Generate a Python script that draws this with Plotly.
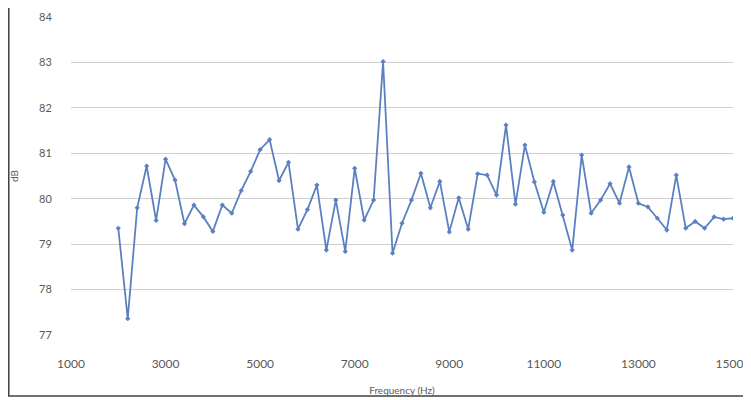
import plotly.graph_objects as go

frequency_hz = [2000 + 200 * i for i in range(66)]
level_db = [
    79.35, 77.36, 79.80, 80.72, 79.52, 80.87, 80.41, 79.45, 79.86, 79.60,
    79.28, 79.86, 79.68, 80.18, 80.60, 81.08, 81.30, 80.40, 80.80, 79.33,
    79.76, 80.30, 78.87, 79.97, 78.84, 80.67, 79.53, 79.97, 83.02, 78.80,
    79.46, 79.97, 80.56, 79.80, 80.38, 79.27, 80.02, 79.33, 80.55, 80.52,
    80.08, 81.62, 79.88, 81.18, 80.37, 79.70, 80.38, 79.64, 78.87, 80.96,
    79.68, 79.97, 80.33, 79.90, 80.70, 79.90, 79.82, 79.57, 79.31, 80.52,
    79.35, 79.50, 79.35, 79.60, 79.55, 79.57,
]
x_ticks = [1000, 3000, 5000, 7000, 9000, 11000, 13000, 15000]
y_ticks = [77, 78, 79, 80, 81, 82, 83, 84]

fig = go.Figure()
fig.add_trace(go.Scatter(
    x=frequency_hz, y=level_db, mode="lines+markers",
    line=dict(color="#5b80c2", width=1.8),
    marker=dict(color="#5b80c2", size=4, symbol="diamond"),
    showlegend=False,
))

font_family = "Lato, 'Open Sans', sans-serif"
fig.update_layout(
    width=743, height=392,
    margin=dict(l=63, r=18, t=9, b=65, autoexpand=False),
    paper_bgcolor="white", plot_bgcolor="white",
    font=dict(family=font_family, color="#595959", size=11),
    xaxis=dict(
        range=[1000, 15000], tickvals=x_ticks, ticktext=[str(v) for v in x_ticks],
        showgrid=False, zeroline=False, showline=False, automargin=False,
        ticks="outside", ticklen=18, tickcolor="rgba(0,0,0,0)",
        tickfont=dict(size=12, color="#595959"),
        title=dict(text="Frequency (Hz)", font=dict(size=10, color="#595959"), standoff=16),
    ),
    yaxis=dict(
        range=[77, 84], tickvals=y_ticks, showgrid=True, gridcolor="#cfcfcf",
        gridwidth=1, zeroline=False, showline=False, automargin=False,
        ticks="outside", ticklen=16, tickcolor="rgba(0,0,0,0)",
        tickfont=dict(size=11, color="#595959"),
        title=dict(text="dB", font=dict(size=10, color="#595959"), standoff=22),
    ),
    shapes=[dict(
        type="rect", xref="paper", yref="paper",
        x0=-0.094, x1=1.0242, y0=-0.192, y1=1.0377,
        line=dict(color="#404040", width=1.5), fillcolor="rgba(0,0,0,0)",
    )],
)

fig.write_html("out.html")
